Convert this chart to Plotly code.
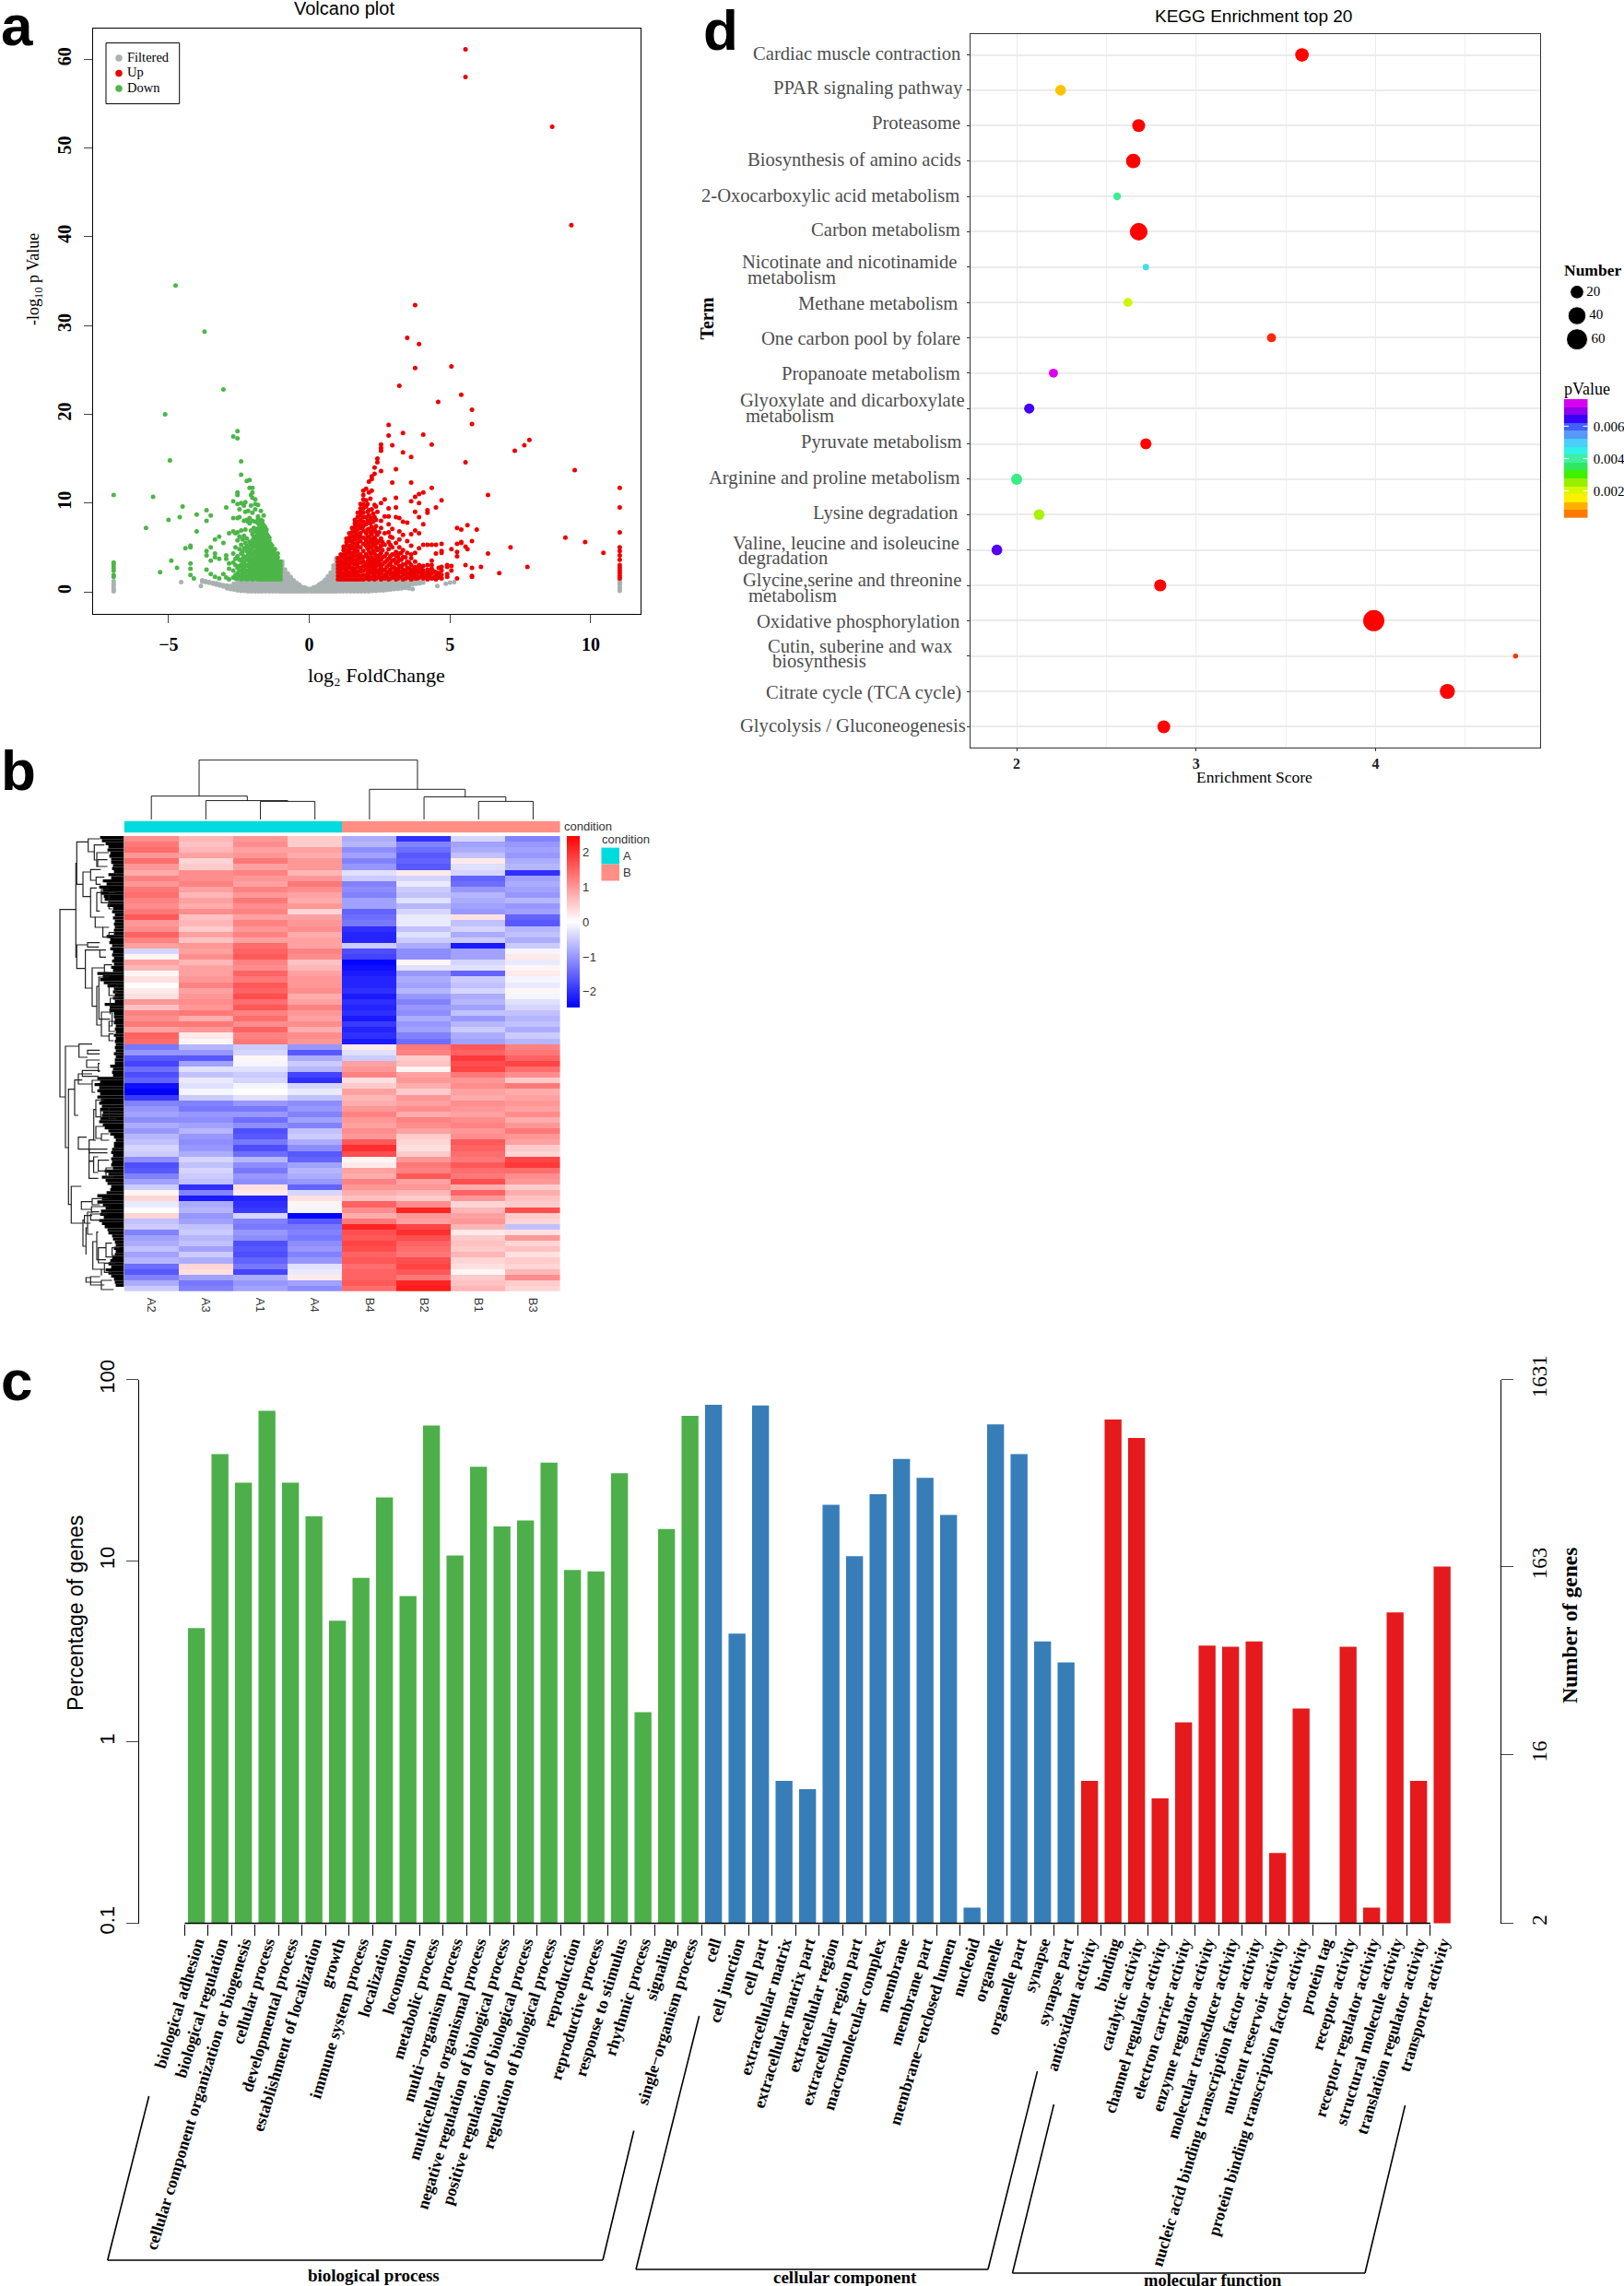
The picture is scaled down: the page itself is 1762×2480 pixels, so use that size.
import numpy as np
import plotly.graph_objects as go

W, H = 1762, 2480
SERIF = "Liberation Serif"
SANS = "Liberation Sans"

# ---------- panel a: volcano ----------
volcano_names = ["Filtered", "Up", "Down"]
filtered_columns = [
    (-6.95, [0.05, 0.2, 0.4, 0.7, 0.9, 1.2]),
    (-4.55, [1.1]), (-3.85, [0.65]), (-3.8, [1.3, 1.15]), (-3.68, [1.1, 1.2]), (-3.55, [1.0, 1.1]),
    (-3.42, [0.9, 1.0]), (-3.3, [0.8, 0.95]), (-3.18, [0.7, 0.85]), (-3.05, [0.6, 0.75]), (-2.92, [0.55, 0.7, 0.4]),
    (-2.8, [0.3, 0.5, 0.65]), (-2.68, [0.25, 0.45, 0.6, 0.9]), (-2.55, [0.15, 0.35, 0.55, 0.8, 1.1]),
    (-2.42, [0.1, 0.3, 0.55, 0.8, 1.05, 1.25]), (-2.3, [0.1, 0.3, 0.55, 0.8, 1.1, 1.3]),
    (-2.18, [0.05, 0.25, 0.5, 0.75, 1.0, 1.25]), (-2.05, [0.05, 0.25, 0.5, 0.8, 1.05, 1.3]),
    (-1.92, [0.05, 0.25, 0.5, 0.75, 1.0, 1.3]), (-1.8, [0.05, 0.3, 0.55, 0.8, 1.05, 1.3]),
    (-1.68, [0.05, 0.25, 0.5, 0.75, 1.0, 1.3]), (-1.55, [0.05, 0.25, 0.5, 0.8, 1.05, 1.3]),
    (-1.42, [0.05, 0.3, 0.55, 0.8, 1.05, 1.3]), (-1.3, [0.05, 0.25, 0.5, 0.75, 1.0, 1.3]),
    (-1.18, [0.05, 0.25, 0.5, 0.8, 1.05, 1.3]), (-1.06, [0.05, 0.3, 0.55, 0.8, 1.05, 1.3, 1.7, 2.1, 2.5, 2.9]),
    (-0.96, [0.05, 0.3, 0.55, 0.85, 1.2, 1.55, 1.9, 2.3, 2.7, 3.1, 3.4]),
    (-0.86, [0.05, 0.3, 0.55, 0.85, 1.2, 1.5, 1.85, 2.2, 2.5]),
    (-0.76, [0.05, 0.3, 0.55, 0.85, 1.15, 1.45, 1.75, 2.05]),
    (-0.66, [0.05, 0.25, 0.5, 0.8, 1.1, 1.4, 1.65]),
    (-0.56, [0.05, 0.25, 0.5, 0.75, 1.0, 1.3]), (-0.46, [0.05, 0.25, 0.45, 0.7, 1.0]),
    (-0.36, [0.05, 0.2, 0.4, 0.6, 0.8]), (-0.26, [0.05, 0.2, 0.4, 0.55]), (-0.16, [0.05, 0.2, 0.35, 0.5]),
    (-0.06, [0.05, 0.2, 0.35]), (0.06, [0.05, 0.2, 0.35]), (0.16, [0.05, 0.2, 0.35, 0.5]),
    (0.26, [0.05, 0.2, 0.4, 0.6]), (0.36, [0.05, 0.2, 0.45, 0.65, 0.85]), (0.46, [0.05, 0.25, 0.5, 0.75, 1.05]),
    (0.56, [0.05, 0.25, 0.5, 0.8, 1.1, 1.35]), (0.66, [0.05, 0.25, 0.55, 0.85, 1.15, 1.45, 1.75]),
    (0.76, [0.05, 0.3, 0.6, 0.9, 1.2, 1.5, 1.8, 2.15]), (0.86, [0.05, 0.3, 0.6, 0.9, 1.2, 1.55, 1.9, 2.25, 2.6, 2.95]),
    (0.96, [0.05, 0.3, 0.6, 0.9, 1.25, 1.6, 1.95, 2.35, 2.75, 3.15, 3.55, 3.8]),
    (1.08, [0.05, 0.3, 0.55, 0.85, 1.15]), (1.2, [0.05, 0.3, 0.55, 0.85, 1.2]), (1.33, [0.05, 0.25, 0.5, 0.8, 1.15]),
    (1.46, [0.05, 0.3, 0.55, 0.85, 1.2]), (1.59, [0.05, 0.25, 0.5, 0.8, 1.15]), (1.72, [0.05, 0.3, 0.55, 0.85, 1.2]),
    (1.85, [0.05, 0.25, 0.5, 0.8, 1.15]), (1.98, [0.05, 0.3, 0.55, 0.85, 1.2]), (2.11, [0.05, 0.3, 0.55, 0.85, 1.15]),
    (2.24, [0.1, 0.3, 0.6, 0.9, 1.2]), (2.37, [0.1, 0.3, 0.6, 0.85, 1.15]), (2.5, [0.15, 0.4, 0.65, 0.95, 1.2]),
    (2.63, [0.15, 0.35, 0.65, 0.9, 1.2]), (2.76, [0.2, 0.4, 0.7, 0.95, 1.25]), (2.89, [0.25, 0.5, 0.7, 1.0, 1.25]),
    (3.02, [0.3, 0.55, 0.8, 1.05, 1.25]), (3.15, [0.35, 0.6, 0.85, 1.1, 1.25]), (3.28, [0.4, 0.6, 0.9, 1.15]),
    (3.41, [0.45, 0.7, 0.95, 1.2]), (3.54, [0.4, 0.65, 0.9, 1.1]), (3.67, [0.3, 0.85, 1.1, 1.3]),
    (3.8, [0.9, 1.1, 1.25]), (3.93, [0.95, 1.15]), (4.05, [1.05]), (4.55, [0.65]), (4.85, [0.9]), (5.0, [1.05]),
    (5.15, [1.1]), (11.03, [0.1, 0.3, 0.5, 0.8, 1.0, 1.2]),
]
up_columns = [
    (1.02, [1.4, 1.8, 2.2, 2.6, 3.0, 3.4, 3.8]),
    (1.12, [1.4, 1.8, 2.2, 2.6, 3.0, 3.4, 3.8, 4.2]),
    (1.22, [1.4, 1.8, 2.1, 2.6, 3.0, 3.3, 3.8, 4.2, 4.7, 5.1]),
    (1.32, [1.4, 1.9, 2.3, 2.7, 3.1, 3.5, 3.9, 4.3, 4.7, 5.2, 5.6, 6.0]),
    (1.42, [1.4, 1.8, 2.2, 2.7, 3.1, 3.5, 3.9, 4.4, 4.8, 5.2, 5.7, 6.1, 6.6]),
    (1.52, [1.4, 1.9, 2.3, 2.7, 3.2, 3.6, 4.0, 4.4, 4.9, 5.3, 5.7, 6.2, 6.7, 7.2]),
    (1.62, [1.4, 1.8, 2.2, 2.6, 3.1, 3.5, 4.0, 4.5, 4.9, 5.4, 5.9, 6.3, 6.8, 7.3, 7.7, 8.1]),
    (1.72, [1.4, 1.9, 2.3, 2.8, 3.2, 3.6, 4.1, 4.6, 5.1, 5.5, 6.0, 6.5, 7.0, 7.5, 7.9, 8.4, 8.9]),
    (1.82, [1.4, 1.8, 2.3, 2.7, 3.3, 3.8, 4.2, 5.0, 5.7, 6.2, 6.6, 7.2, 7.6, 8.1, 8.6, 9.0, 9.4, 9.9]),
    (1.92, [1.4, 1.9, 2.4, 2.9, 3.4, 3.9, 4.6, 5.4, 6.1, 6.9, 7.4, 7.9, 8.4, 8.9, 9.4, 9.9, 10.4, 10.9, 11.4]),
    (2.02, [1.5, 1.9, 2.6, 3.1, 4.2, 5.2, 5.8, 6.6, 7.6, 8.4, 9.6, 10.3, 11.6]),
    (2.07, [1.7, 2.3, 2.9, 3.4, 3.9, 4.9, 5.5, 6.2, 7.0, 8.0, 9.0, 9.9]),
    (2.12, [1.4, 2.0, 2.9, 3.6, 4.6, 5.4, 6.2, 7.1, 8.6, 9.2, 11.2, 12.4]),
    (2.17, [1.6, 2.2, 2.6, 3.2, 3.8, 4.3, 5.1, 5.9, 6.7, 7.7, 8.2, 10.5]),
    (2.22, [1.5, 2.3, 2.8, 3.4, 3.9, 5.0, 5.7, 6.5, 7.3, 8.3, 9.3, 11.4, 12.7, 13.0]),
    (2.27, [1.7, 2.1, 2.5, 3.0, 3.6, 4.6, 5.5, 6.0, 6.9, 7.9, 8.8]),
    (2.32, [1.4, 1.9, 2.6, 3.2, 4.3, 5.3, 6.1, 7.0, 8.4, 9.8, 13.3, 14.0]),
    (2.37, [1.5, 2.4, 2.9, 3.4, 4.0, 5.0, 5.8, 6.7, 7.4, 8.1, 9.6]),
    (2.42, [1.6, 2.2, 3.1, 3.7, 4.7, 5.5, 6.4, 9.0, 14.6, 15.0]),
    (2.48, [1.8, 2.5, 3.0, 3.3, 4.1, 4.9, 5.7, 6.7]),
    (2.55, [1.4, 2.1, 2.7, 3.6, 4.4, 5.2, 6.0, 7.2, 8.0, 10.0, 13.6, 15.9, 16.2, 16.6]),
    (2.6, [1.6, 2.4, 3.1, 3.9, 4.7, 5.6]),
    (2.68, [1.5, 1.9, 2.5, 3.3, 4.0, 5.3, 6.6, 8.5, 10.4]),
    (2.75, [1.7, 2.1, 2.8, 3.5, 4.3]),
    (2.82, [1.4, 2.3, 3.0, 3.7, 4.8, 5.6, 6.7, 7.6, 8.5, 9.4, 17.6, 18.8]),
    (2.88, [1.5, 2.0, 2.5, 3.2, 4.0, 5.3, 6.2]),
    (2.95, [1.6, 2.1, 2.8, 3.5, 4.2, 5.0, 6.1, 7.1, 12.3, 16.5]),
    (3.02, [1.7, 2.2, 2.7, 3.6, 4.2]),
    (3.08, [1.4, 1.9, 2.4, 3.2, 4.1, 4.5, 5.5, 8.4, 9.5, 10.6, 13.8]),
    (3.15, [1.5, 2.0, 2.6, 3.4, 3.9]),
    (3.2, [1.6, 2.2, 2.9, 3.6, 4.3, 5.0, 5.9, 6.8, 8.3, 23.2]),
    (3.27, [1.7, 2.3, 2.8, 3.6, 4.4]),
    (3.33, [1.4, 2.0, 2.5, 3.1, 3.9, 4.7, 6.4, 7.9, 15.7, 17.9]),
    (3.42, [1.5, 1.9, 2.4, 3.1, 3.9]),
    (3.48, [1.6, 2.1, 2.7, 3.4, 4.4, 5.7, 7.8, 28.6]),
    (3.55, [1.6, 2.1, 2.6, 3.3]),
    (3.62, [1.4, 1.9, 2.3, 3.0, 3.8, 4.2, 5.2, 6.5, 10.2, 12.3, 15.2]),
    (3.7, [1.6, 2.2, 2.6]),
    (3.76, [1.5, 2.0, 2.8, 3.4, 4.4, 6.9, 9.0, 10.7, 25.2, 32.3]),
    (3.83, [1.5, 1.8, 2.4]),
    (3.9, [1.6, 2.2, 2.7, 3.0, 4.9, 6.6, 8.4, 10.0, 11.0, 27.9]),
    (3.98, [1.7, 2.1, 2.6]),
    (4.05, [1.5, 1.9, 2.4, 2.9, 5.3, 7.6, 11.2, 17.7]),
    (4.12, [1.6, 2.0]),
    (4.2, [1.4, 1.7, 2.2, 2.5, 3.0, 5.3, 8.9, 9.2]),
    (4.28, [1.6, 1.9, 2.3]),
    (4.35, [1.5, 2.1, 2.6, 3.0, 3.5, 5.3, 11.7, 16.6]),
    (4.42, [1.6, 2.3]),
    (4.5, [1.4, 1.9, 2.2, 4.3, 5.3, 9.5]),
    (4.6, [1.6, 2.1, 2.7]),
    (4.7, [1.5, 1.9, 2.4, 2.8, 4.4, 4.6, 5.4, 10.3]),
    (4.9, [1.7, 2.0, 2.8, 3.0]), (5.05, [2.4, 2.9, 4.8, 25.4]), (4.58, [21.4]),
    (5.25, [1.5, 4.0, 4.5, 5.4, 7.2]), (5.4, [5.5, 5.6, 7.0, 22.2]), (5.55, [3.0, 5.1, 14.6, 58.0, 61.1]),
    (5.62, [4.8, 7.5]), (5.78, [1.7, 1.8, 2.7, 5.7, 18.9, 20.5]), (5.95, [7.0]),
    (6.1, [2.8]), (6.35, [4.3, 10.9]), (6.75, [2.1]), (7.15, [5.0]), (7.3, [15.9]), (7.64, [16.5]),
    (7.75, [2.8]), (7.82, [17.1]), (8.63, [52.4]), (9.1, [6.1]), (9.31, [41.3]), (9.43, [13.7]),
    (9.8, [5.6]), (10.45, [4.4]),
    (11.03, [1.5, 1.8, 2.1, 2.4, 2.7, 3.0, 3.6, 4.1, 4.6, 5.0, 6.7, 9.5, 11.7]),
]
down_columns = [
    (-1.02, [1.4, 1.8, 2.2, 2.6, 3.0, 3.4]),
    (-1.07, [1.6, 2.0, 2.4, 2.8, 3.2]),
    (-1.12, [1.4, 1.9, 2.3, 2.7, 3.1, 3.5, 3.9, 4.3]),
    (-1.17, [1.6, 2.1, 2.5, 2.9, 3.3, 3.7, 4.1]),
    (-1.22, [1.4, 1.8, 2.2, 2.6, 3.0, 3.5, 3.9, 4.3, 4.8]),
    (-1.27, [1.6, 2.0, 2.4, 2.8, 3.3, 3.7, 4.1, 4.6]),
    (-1.32, [1.4, 1.9, 2.3, 2.7, 3.1, 3.5, 3.9, 4.4, 4.8, 5.2]),
    (-1.37, [1.6, 2.1, 2.5, 2.9, 3.3, 3.7, 4.2, 4.6, 5.0, 5.4]),
    (-1.42, [1.4, 1.8, 2.2, 2.7, 3.1, 3.5, 4.0, 4.4, 4.8, 5.3, 5.8, 6.1]),
    (-1.47, [1.6, 2.0, 2.5, 2.9, 3.3, 3.8, 4.2, 4.6, 5.1, 5.5, 6.0, 6.3]),
    (-1.52, [1.4, 1.9, 2.3, 2.7, 3.2, 3.6, 4.0, 4.4, 4.9, 5.3, 5.8, 6.2, 6.6, 7.0]),
    (-1.57, [1.6, 2.1, 2.5, 3.0, 3.4, 3.8, 4.2, 4.7, 5.1, 5.6, 6.0, 6.4, 6.8, 7.3]),
    (-1.62, [1.4, 1.8, 2.2, 2.6, 3.1, 3.5, 4.0, 4.5, 4.9, 5.4, 5.8, 6.2, 6.7, 7.1, 7.5, 8.6]),
    (-1.67, [1.6, 2.0, 2.4, 2.9, 3.3, 3.8, 4.3, 4.7, 5.2, 5.6, 6.1, 6.5, 6.9, 7.3, 7.7, 8.0]),
    (-1.72, [1.4, 1.9, 2.3, 2.8, 3.2, 3.6, 4.1, 4.6, 5.1, 5.5, 6.0, 6.4, 6.8, 7.3, 7.7, 8.1, 9.1]),
    (-1.77, [1.6, 2.1, 2.5, 3.0, 3.5, 3.9, 4.4, 4.9, 5.3, 5.8, 6.2, 6.7, 7.1, 7.5, 7.8]),
    (-1.82, [1.4, 1.8, 2.3, 2.7, 3.3, 3.8, 4.2, 4.7, 5.4, 6.0, 6.6, 7.1, 7.7, 8.2, 8.5, 9.8]),
    (-1.87, [1.6, 2.1, 2.6, 3.0, 3.5, 4.0, 4.5, 5.0, 5.7, 6.3, 7.1]),
    (-1.92, [1.5, 1.9, 2.4, 2.9, 3.4, 3.9, 4.6, 5.2, 5.9, 6.8, 7.9, 9.3, 9.9, 10.4]),
    (-1.97, [1.6, 2.2, 2.7, 3.3, 3.8, 4.4, 5.4, 6.2, 7.2]),
    (-2.02, [1.4, 1.9, 2.5, 3.1, 3.6, 4.2, 5.0, 5.8, 6.5, 8.0, 8.9, 10.6, 11.2, 11.7]),
    (-2.07, [1.7, 2.3, 2.8, 3.5, 4.7, 5.3, 6.9, 9.7, 10.9]),
    (-2.12, [1.5, 2.0, 2.6, 3.3, 3.9, 4.4, 5.6, 7.7, 8.3, 11.7, 12.6]),
    (-2.17, [1.7, 2.3, 2.9, 3.6, 4.2, 5.0, 7.9, 9.1]),
    (-2.22, [1.4, 1.8, 2.4, 3.0, 3.6, 4.6, 5.2, 6.0, 8.1, 12.5]),
    (-2.27, [1.6, 2.2, 2.9, 3.9, 5.5, 7.0, 9.0, 10.1]),
    (-2.32, [1.5, 2.1, 2.7, 3.3, 4.0, 4.9, 6.3, 8.0, 9.7]),
    (-2.37, [1.7, 2.3, 2.8, 3.7, 4.5, 5.9]),
    (-2.42, [1.4, 1.9, 2.4, 3.0, 3.5, 4.3, 5.3, 6.9, 10.0, 13.2, 14.7]),
    (-2.48, [1.8, 2.4, 2.9, 3.6, 4.8, 6.2, 8.4, 9.3]),
    (-2.55, [1.5, 2.1, 2.7, 4.0, 5.8, 6.7, 8.3, 9.9, 10.9, 11.2, 17.3, 18.1]),
    (-2.62, [1.5, 1.9, 3.0, 3.7, 5.0, 6.6]),
    (-2.7, [1.6, 2.4, 3.3, 4.3, 6.8, 8.3, 10.2, 17.5]), (-2.85, [1.4, 2.6, 3.2, 6.6]),
    (-2.95, [1.6, 3.7, 4.1, 9.5]), (-3.05, [22.8, 5.5, 2.0]), (-3.2, [1.5, 3.7, 6.2]), (-3.35, [1.7, 3.9, 4.3, 5.9]),
    (-3.5, [2.0, 3.5, 5.0, 8.6]), (-3.65, [2.5, 4.1, 4.6, 8.0, 9.2]), (-3.72, [29.3]), (-4.0, [6.8, 8.7]),
    (-4.1, [1.5]), (-4.22, [1.9, 2.6, 3.2, 5.0, 5.2]), (-4.4, [4.9]), (-4.5, [9.6]), (-4.6, [8.4]), (-4.7, [2.7]),
    (-4.75, [34.5]), (-4.9, [3.5]), (-4.95, [14.8]), (-5.0, [8.1]), (-5.12, [20.0]), (-5.3, [2.2]),
    (-5.55, [10.7]), (-5.8, [7.2]), (-6.95, [1.7, 1.9, 2.4, 2.7, 3.0, 3.3, 10.9]),
]

# ---------- panel b: heat map ----------
heat_columns = ["A2", "A3", "A1", "A4", "B4", "B2", "B1", "B3"]
heat_values = [
    [1.1, .7, 1.0, .5, -.8, -2.0, -.4, -1.2], [1.3, .6, 1.1, .5, -.7, -1.2, -.9, -1.0],
    [1.4, .7, .9, .9, -1.1, -1.4, -.8, -.9], [1.0, .9, 1.0, .8, -.9, -1.6, -.6, -1.0],
    [1.4, .4, 1.3, 1.0, -1.2, -1.5, .2, -.8], [1.0, .5, .9, 1.0, -1.0, -1.6, -.3, -.7],
    [.8, 1.1, 1.2, .7, -.3, .2, -.4, -2.0], [1.2, 1.1, 1.0, 1.0, -.5, -.4, -1.5, -.9],
    [1.0, 1.2, .9, 1.3, -1.2, -.2, -1.4, -.8], [1.3, .9, 1.2, 1.1, -1.1, -.5, -1.0, -.9],
    [1.4, .7, 1.0, .9, -1.2, -.6, -.7, -1.0], [1.2, .9, 1.3, .8, -.9, -.3, -.8, -.7],
    [1.1, .8, 1.1, 1.0, -.9, -.7, -.9, -1.0], [1.3, 1.1, 1.2, .4, -1.5, -.4, -1.0, -.9],
    [1.6, .6, .9, .9, -1.4, -.2, .3, -1.5], [1.0, .7, 1.2, 1.0, -1.3, -.2, -.6, -1.6],
    [1.1, .5, 1.0, 1.1, -2.0, -.6, -.4, -.7], [1.5, .9, 1.2, .8, -2.1, -.3, -.8, -.6],
    [1.2, .6, .9, .9, -2.1, -.5, -.5, -.8], [.9, 1.0, 1.4, .9, -.5, -.8, -2.2, -.5],
    [-.4, .9, 1.5, 1.2, -1.7, -1.1, -.9, -.1], [.1, 1.1, 1.6, 1.1, -1.8, -1.1, -.9, .2],
    [.9, .7, 1.2, .6, -2.4, .1, -.4, -.2], [.7, .9, 1.1, .7, -2.3, -.3, -.3, .1],
    [.1, .9, 1.5, .9, -2.2, -1.0, -1.5, .2], [.3, 1.0, 1.3, 1.0, -2.1, -.8, -.5, -.1],
    [0, 1.2, 1.6, 1.0, -2.1, -.9, -.6, -.2], [.2, .9, 1.5, 1.1, -2.0, -.7, -.4, .1],
    [.3, 1.0, 1.7, .8, -2.2, -1.0, -.8, -.1], [1.0, 1.1, 1.4, .9, -2.0, -1.2, -.7, -.3],
    [.6, 1.0, 1.6, 1.2, -2.1, -1.0, -.9, -.4], [1.2, 1.3, 1.2, 1.0, -2.0, -1.1, -.6, -.6],
    [1.1, .8, 1.4, .9, -2.2, -.8, -1.0, -.7], [1.3, 1.3, 1.1, 1.1, -1.9, -1.0, -.7, -.6],
    [.9, 1.0, 1.5, .8, -2.1, -.9, -.5, -.8], [1.5, .2, 1.2, 1.1, -2.0, -1.2, -.8, -.5],
    [1.4, .1, 1.3, 1.0, -2.2, -1.4, -.9, -.7],
    [-1.3, -.7, -.5, -1.0, .2, 1.3, 1.6, 1.2], [-1.0, -1.0, -.4, -1.6, -.3, 1.2, 1.5, 1.3],
    [-1.6, -1.6, .1, -.8, -.5, .5, 1.9, 1.5], [-1.8, -.9, -.1, -.5, .9, .6, 1.7, 1.8],
    [-1.4, -.3, -.3, -.7, 1.0, .1, 1.8, 1.4], [-1.7, -.6, -.5, -1.8, 1.2, .9, 1.3, 1.1],
    [-1.5, -.2, -.4, -2.0, .3, 1.0, 1.0, .5], [-2.3, -.3, -.1, -.4, .5, .8, 1.1, 1.3],
    [-2.5, -.1, 0, -.2, .9, .5, .9, .8], [-1.9, -.5, -.3, -.6, .7, 1.0, .8, .9],
    [-1.2, -1.2, -1.0, -1.1, .8, .9, 1.1, 1.0], [-1.0, -1.3, -1.3, -1.0, 1.0, 1.1, 1.0, .9],
    [-.9, -1.0, -1.0, -1.2, 1.2, .8, .9, 1.1], [-1.1, -1.1, -1.4, -.9, 1.0, 1.2, 1.1, .8],
    [-.8, -.9, -1.1, -1.2, .9, 1.1, 1.2, 1.0], [-1.0, -.7, -1.7, -.6, 1.1, .9, 1.0, 1.3],
    [-.7, -1.0, -1.6, -.5, 1.0, .5, 1.1, 1.0], [-.6, -1.1, -1.3, -.8, 1.6, .4, 1.6, .9],
    [-.4, -1.0, -1.7, -1.1, 2.0, .3, 1.5, .5], [-.5, -.8, -1.4, -1.6, 1.7, .5, 1.4, .4],
    [-1.1, -.4, -.7, -1.5, .1, 1.0, 1.3, 1.8], [-1.7, -.6, -1.1, -.9, .2, 1.3, 1.6, 1.9],
    [-1.6, -.4, -1.3, -.7, .9, 1.2, 1.4, 1.4], [-1.2, -.5, -1.0, -.8, .8, 1.6, 1.3, 1.1],
    [-.9, -.6, -1.1, -1.0, 1.2, .9, 1.7, 1.0], [-.5, -2.0, .3, -1.5, 1.0, 1.0, .8, .5],
    [.1, -1.2, .2, -.4, .8, .7, 1.5, .8], [.4, -2.2, -2.1, .3, .6, .5, 1.0, .6],
    [-.2, -.8, -2.0, .1, 1.5, 1.1, .4, .5], [0, -.7, -1.9, -.1, 1.1, 2.1, .7, 1.7],
    [.4, -1.0, -.4, -2.4, .8, 1.0, .9, .5], [-.6, -.9, -1.2, -1.6, 1.3, .9, 1.0, .4],
    [-.5, -.6, -1.3, -1.3, 2.1, 1.8, .7, -.6], [-1.2, -.5, -1.0, -1.2, 1.7, 2.0, .2, .3],
    [-.9, -.7, -1.1, -1.3, 1.6, 1.7, .5, 1.0], [-.8, -.6, -1.7, -1.1, 1.8, 1.5, .6, .4],
    [-.6, -.9, -1.6, -1.0, 1.7, 1.4, .5, .6], [-.9, -.5, -1.7, -1.2, 1.5, 1.3, .7, .3],
    [-.7, -.8, -1.5, -1.0, 1.6, 1.7, .4, .5], [-1.4, .4, -1.3, -.3, 1.4, 1.8, .3, .4],
    [-1.6, .3, -1.8, -.2, 1.5, 1.6, .1, .7], [-1.2, -.9, -.8, .2, 1.5, 1.3, .5, 1.1],
    [-.8, -1.3, -1.0, -.9, 1.6, 2.1, .6, .5], [-.5, -1.2, -.9, -1.1, 1.4, 2.2, .7, .4],
]
condition_codes = [0, 0, 0, 0, 1, 1, 1, 1]
# column dendrogram: left pos, right pos, height, left child height, right child height
col_merges = [
    (0.876, 4.88, 158, 62, 80), (0, 1.76, 62, 0, 50), (1, 2.5, 50, 0, 48), (2, 3, 48, 0, 0),
    (4, 5.755, 80, 0, 60), (5, 6.5, 60, 0, 48), (6, 7, 48, 0, 0),
]
# row dendrogram: height, top row, bottom row, top child height, bottom child height
row_merges = [
    (69.6, 79.7, 283, 52.3, 63.6), (52.3, 29.7, 131.3, 51.3, 51.3), (51.3, 6.3, 52.3, 38.9, 44.6),
    (38.9, 3, 17, 26.3, 32.3), (32.3, 9.7, 26, 21.3, 29.6), (29.6, 18, 33, 16.3, 28.6), (28.6, 25.7, 33, 18, 18),
    (44.6, 39, 65.7, 36.3, 36.3), (36.3, 36.3, 48, 25.3, 30.3), (30.3, 44.7, 52.3, 21.3, 25.3),
    (36.3, 56.3, 88, 29.6, 31.3), (29.6, 61.3, 81.3, 24.6, 26.3), (24.6, 58, 72.3, 16.3, 16.3),
    (16.3, 61.3, 79, 9.6, 13), (31.3, 88, 99, 21.3, 23), (23, 99, 109.7, 16.3, 16.3), (16.3, 104.7, 110.3, 9.6, 11.3),
    (51.3, 118, 143.7, 39.6, 42), (39.6, 115.7, 120.3, 26.3, 27.3), (42, 123.7, 165, 26.3, 34.6),
    (26.3, 123.7, 131.3, 19.6, 19.6), (34.6, 143, 184.7, 21.3, 29.6), (21.3, 139.7, 148, 13, 18),
    (29.6, 163, 205, 27.3, 24.6), (27.3, 153, 198.7, 16.3, 15), (16.3, 160, 173, 9.6, 9.6), (9.6, 163.7, 169.7, 6.3, 6.3),
    (15, 176, 193, 6.3, 14.6), (24.6, 191, 217, 13, 16.3), (13, 192, 206, 12, 16.3), (16.3, 201, 212, 9.6, 9.6),
    (16.3, 214.7, 222, 11.3, 11.3),
    (63.6, 228, 338, 48.9, 60.3), (48.9, 225.7, 240, 34.6, 39.6), (39.6, 232.3, 236.3, 26.3, 26.3),
    (60.3, 274.7, 399.7, 53.6, 57.3), (53.6, 264.7, 303, 45.3, 49.6), (45.3, 254.3, 260.7, 26.3, 27.9),
    (49.6, 258, 269, 34.6, 34.6), (34.6, 265, 278, 24.6, 31.3), (49.6, 326.7, 339.7, 40.6, 37.9),
    (40.6, 243, 251, 26.3, 27.9), (27.9, 246.7, 255.3, 26.3, 26.3), (37.9, 329.7, 353, 32.9, 32.9),
    (32.9, 296.7, 330, 30.6, 30.6), (30.6, 286.3, 304.7, 21.3, 25.3), (25.3, 298, 308, 18, 16.3), (16.3, 294.7, 306.7, 9.6, 8.0),
    (30.6, 315, 328, 21.3, 24.6), (24.6, 323, 330, 16.3, 16.3), (37.9, 339.7, 343.7, 18, 18),
    (38, 352.3, 371.3, 33, 28), (33, 348, 365, 28, 28), (28, 351.7, 363.3, 16.3, 19.6), (19.6, 360, 370, 11.3, 11.3),
    (57.3, 380, 420, 46.3, 44.6), (46.3, 396.7, 405, 34.6, 35.3), (34.6, 393.3, 400, 16.3, 26.3), (35.3, 402, 407.7, 16.3, 27),
    (44.6, 416.7, 445, 43, 41.3), (43, 411.7, 420, 34.6, 36.3), (36.3, 410, 416.7, 18, 24.6),
    (41.3, 425, 454, 39.6, 41.3), (39.6, 408, 432, 33.9, 33.9), (33.9, 440, 470, 29.6, 24.6),
    (29.6, 429.7, 459.7, 27.9, 19.6), (27.9, 446.7, 463, 19.6, 21.3), (19.6, 441.7, 456.7, 13, 13), (13, 446.7, 455, 5, 5),
    (21.3, 463.3, 473.3, 9.6, 13), (24.6, 470, 476.7, 21.3, 24.6), (41.3, 479, 484, 36.3, 24.6), (36.3, 478, 487, 26, 21.3),
    (24.6, 482, 492, 13, 11.3),
]
leaf_depth = [
    26, 24, 20, 17, 18, 15, 16, 14, 14, 12, 13, 11, 17, 14, 23, 19, 27, 23, 25, 22, 21, 17, 18, 12, 13, 10, 12, 10,
    11, 10, 11, 11, 19, 15, 16, 13, 15, 12, 13, 11, 13, 11, 14, 12, 29, 23, 26, 22, 18, 11, 12, 10, 12, 10, 21, 15, 16, 11,
    11, 10, 11, 9, 10, 9, 11, 9, 10, 9, 10, 9, 11, 9, 10, 10, 15, 12, 13, 12, 29, 26, 32, 27,
    29, 26, 29, 25, 27, 24, 26, 23, 24, 25, 27, 23, 21, 17, 15, 11, 9, 11, 11, 13, 14, 12, 14, 13, 14, 12, 21, 17, 24, 20,
    18, 14, 15, 19, 29, 24, 29, 23, 20, 25, 26, 22, 27, 24, 21, 18, 17, 13, 12, 10, 9, 11, 9, 10, 13, 15, 17, 14, 20, 17,
    14, 11, 10, 9,
]

# ---------- panel c: GO bars ----------
bp_terms = ["biological adhesion", "biological regulation", "cellular component organization or biogenesis",
            "cellular process", "developmental process", "establishment of localization", "growth",
            "immune system process", "localization", "locomotion", "metabolic process", "multi−organism process",
            "multicellular organismal process", "negative regulation of biological process",
            "positive regulation of biological process", "regulation of biological process", "reproduction",
            "reproductive process", "response to stimulus", "rhythmic process", "signaling", "single−organism process"]
bp_values = [4.26, 38.8, 27.0, 67.3, 27.0, 17.6, 4.67, 8.05, 22.4, 6.40, 55.8, 10.7, 33.0, 15.5, 16.7, 34.8, 8.91,
             8.74, 30.4, 1.46, 15.0, 63.2]
cc_terms = ["cell", "cell junction", "cell part", "extracellular matrix", "extracellular matrix part",
            "extracellular region", "extracellular region part", "macromolecular complex", "membrane", "membrane part",
            "membrane−enclosed lumen", "nucleoid", "organelle", "organelle part", "synapse", "synapse part"]
cc_values = [72.6, 3.97, 72.0, 0.61, 0.55, 20.4, 10.6, 23.3, 36.5, 28.7, 17.9, 0.122, 56.6, 38.8, 3.59, 2.75]
mf_terms = ["antioxidant activity", "binding", "catalytic activity", "channel regulator activity",
            "electron carrier activity", "enzyme regulator activity", "molecular transducer activity",
            "nucleic acid binding transcription factor activity", "nutrient reservoir activity",
            "protein binding transcription factor activity", "protein tag", "receptor activity",
            "receptor regulator activity", "structural molecule activity", "translation regulator activity",
            "transporter activity"]
mf_values = [0.61, 60.2, 47.7, 0.489, 1.285, 3.41, 3.36, 3.59, 0.244, 1.53, None, 3.36, 0.122, 5.19, 0.61, 9.29]
gene_ticks = [2, 16, 163, 1631]
percent_ticks = [0.1, 1, 10, 100]

# ---------- panel d: KEGG dots ----------
kegg_scores = [3.59, 2.245, 2.68, 2.65, 2.56, 2.68, 2.72, 2.62, 3.42, 2.205, 2.07, 2.72, 2.0, 2.125, 1.89, 2.80, 3.99,
               4.78, 4.40, 2.82]
kegg_numbers = [20, 12, 18, 24, 7, 38, 5, 9, 9, 9, 11, 13, 13, 12, 12, 16, 60, 3, 27, 18]
kegg_pvalues = [0.00002, 0.0012, 0.00002, 0.00001, 0.0039, 0.00001, 0.0048, 0.0021, 0.00025, 0.0075, 0.0065, 0.00002,
                0.0038, 0.0024, 0.0066, 0.00002, 0.00001, 0.0003, 0.00002, 0.00002]
number_legend = [20, 40, 60]
pvalue_bands = [0.00057, 0.00106, 0.00155, 0.00204, 0.00253, 0.00302, 0.00351, 0.0040, 0.00449, 0.00498, 0.00547,
                0.00596, 0.00645, 0.00694, 0.00743]
pvalue_colors = ["#ff7800", "#ffb000", "#fff000", "#d8f800", "#98f000", "#40f000", "#30e860", "#40f0a0", "#30f0e8",
                 "#48d0f8", "#5898f8", "#4060f8", "#3800f8", "#9000e8", "#d800f0"]
pvalue_ticks = [0.002, 0.004, 0.006]


def expand(columns):
    xs, ys = [], []
    for x, vals in columns:
        xs += [x] * len(vals)
        ys += vals
    return xs, ys


def dx(a, b):
    return [a / W, b / W]


def dy(top, bot):
    return [1 - bot / H, 1 - top / H]


def px(x):
    return x / W


def py(y):
    return 1 - y / H


annotations, shapes = [], []


def note(x, y, text, size=16, family=SERIF, color="black", xa="center", ya="middle", angle=0, bold=False):
    annotations.append(dict(x=px(x), y=py(y), xref="paper", yref="paper", text=text, showarrow=False, xanchor=xa,
                            yanchor=ya, textangle=angle,
                            font=dict(size=size, family=family, color=color, weight=700 if bold else 400),
                            borderpad=0, borderwidth=0))


def seg(x0, y0, x1, y1, width=1.6, color="black"):
    shapes.append(dict(type="line", xref="paper", yref="paper", x0=px(x0), y0=py(y0), x1=px(x1), y1=py(y1),
                       line=dict(width=width, color=color)))


fig = go.Figure()
layout = {}

# ---------- a ----------
volcano_colors = ["#a9b2b0", "#ee0000", "#4cb648"]
for name, cols, color in zip(volcano_names, [filtered_columns, up_columns, down_columns], volcano_colors):
    xs, ys = expand(cols)
    fig.add_trace(go.Scatter(x=xs, y=ys, mode="markers", name=name, marker=dict(size=5, color=color), xaxis="x",
                             yaxis="y", showlegend=False))
BOLD20 = dict(family=SERIF, size=20, color="black", weight=700)
layout["xaxis"] = dict(domain=dx(101, 695), range=[-7.68, 11.77], anchor="y", showgrid=False, zeroline=False,
                       showline=True, mirror=True, linecolor="black", linewidth=1, ticks="outside", ticklen=9,
                       tickvals=[-5, 0, 5, 10], ticktext=["−5", "0", "5", "10"], tickfont=BOLD20, ticklabelstandoff=6)
layout["yaxis"] = dict(domain=dy(30.5, 665.5), range=[-2.44, 63.5], anchor="x", showgrid=False, zeroline=False,
                       showline=True, mirror=True, linecolor="black", linewidth=1, ticks="outside", ticklen=9,
                       tickvals=[0, 10, 20, 30, 40, 50, 60], tickangle=-90, tickfont=BOLD20, ticklabelstandoff=6)
# volcano key
fig.add_trace(go.Scatter(x=[0, 0, 0], y=[0, 1, 2], mode="markers", marker=dict(size=7.5, color=volcano_colors),
                         showlegend=False, hoverinfo="skip", xaxis="x11", yaxis="y11"))
fig.add_trace(go.Scatter(x=[9, 9, 9], y=[0, 1, 2], mode="text", text=volcano_names, textposition="middle right",
                         textfont=dict(family=SERIF, size=14.5, color="black"), showlegend=False, hoverinfo="skip",
                         xaxis="x11", yaxis="y11"))
layout["xaxis11"] = dict(domain=dx(115, 194.7), range=[-14, 65.7], anchor="y11", visible=False)
layout["yaxis11"] = dict(domain=dy(46.6, 112.6), range=[3.006, -0.994], anchor="x11", visible=False)
shapes.append(dict(type="rect", xref="paper", yref="paper", x0=px(115), x1=px(194.7), y0=py(112.6), y1=py(46.6),
                   line=dict(width=1, color="black")))
note(373, 9, "Volcano plot", 20, SANS)
note(408, 732, "log₂ FoldChange", 22, SERIF)
note(37, 303, "-log<sub>10</sub> p Value", 18, SERIF, angle=-90)
note(1, 28, "a", 62, SANS, xa="left", bold=True)

# ---------- d ----------
kegg_terms = [
    ("Cardiac muscle contraction", None, 1041.8, None, -1.6, 0), ("PPAR signaling pathway", None, 1045, None, -1.6, 0),
    ("Proteasome", None, 1041.8, None, -3.3, 0), ("Biosynthesis of amino acids", None, 1043, None, -0.5, 0),
    ("2-Oxocarboxylic acid metabolism", None, 1040.5, None, -0.5, 0), ("Carbon metabolism", None, 1041.8, None, -1.6, 0),
    ("Nicotinate and nicotinamide", "metabolism", 805, 810.5, -5, 11.5), ("Methane metabolism", None, 1038.5, None, 1.6, 0),
    ("One carbon pool by folare", None, 1041.8, None, 1, 0), ("Propanoate metabolism", None, 1041.8, None, 1, 0),
    ("Glyoxylate and dicarboxylate", "metabolism", 802.5, 808.5, -8, 8.2), ("Pyruvate metabolism", None, 1043, None, -1.6, 0),
    ("Arginine and proline metabolism", None, 1040.5, None, -1, 0), ("Lysine degradation", None, 1039, None, -1.6, 0),
    ("Valine, leucine and isoleucine", "degradation", 795.4, 801, -7.7, 9.3),
    ("Glycine,serine and threonine", "metabolism", 805.8, 811.5, -5.5, 11),
    ("Oxidative phosphorylation", None, 1040.5, None, 1.6, 0), ("Cutin, suberine and wax", "biosynthesis", 832.5, 838, -10.4, 6),
    ("Citrate cycle (TCA cycle)", None, 1042.5, None, 1.6, 0), ("Glycolysis / Gluconeogenesis", None, 1047.7, None, -1, 0),
]
kegg_y = list(range(len(kegg_terms)))
kegg_scale = [[b / 0.00767, c] for b, c in zip(pvalue_bands, pvalue_colors)]
kegg_scale = [[0, "#ff0000"], [0.04, "#ff3000"]] + kegg_scale + [[1, "#e800f0"]]


def dot_size(n):
    return np.interp(n, [3, 9, 12, 20, 40, 60], [5.5, 9.8, 11.7, 14.7, 19.5, 23])


fig.add_trace(go.Scatter(x=kegg_scores, y=kegg_y, mode="markers", showlegend=False, xaxis="x2", yaxis="y2",
                         marker=dict(size=dot_size(np.array(kegg_numbers)), color=kegg_pvalues, colorscale=kegg_scale,
                                     cmin=0, cmax=0.00767, line=dict(width=0), opacity=1)))
layout["xaxis2"] = dict(domain=dx(1053, 1671), range=[1.743, 4.917], anchor="y2", showgrid=True, gridcolor="#ebebeb",
                        gridwidth=1.2, zeroline=False, showline=True, mirror=True, linecolor="#333333", linewidth=1,
                        ticks="outside", ticklen=3, tickvals=[2, 3, 4], tickcolor="#333333",
                        tickfont=dict(family=SERIF, size=16, color="#222222", weight=700),
                        minor=dict(tickvals=[2.5, 3.5, 4.5], showgrid=True, gridcolor="#f1f1f1", gridwidth=1, ticks=""))
layout["yaxis2"] = dict(domain=dy(37.3, 810.7), range=[19.58, -0.58], anchor="x2", showgrid=True, gridcolor="#ebebeb",
                        gridwidth=2, zeroline=False, showline=True, mirror=True, linecolor="#333333", linewidth=1,
                        ticks="outside", ticklen=3, tickvals=kegg_y, ticktext=[""] * 20, tickcolor="#333333")
for i, (a, b, xa_, xb_, d1, d2) in enumerate(kegg_terms):
    row = 59.2 + i * 38.37
    if b is None:
        note(xa_, row + d1, a, 20.6, SERIF, "#4d4d4d", xa="right")
    else:
        note(xa_, row + d1, a, 20.6, SERIF, "#4d4d4d", xa="left")
        note(xb_, row + d2, b, 20.6, SERIF, "#4d4d4d", xa="left")
note(1360, 17.5, "KEGG Enrichment top 20", 19, SANS)
note(1360.6, 842.5, "Enrichment Score", 17.5, SERIF)
note(767, 345.6, "Term", 20, SERIF, angle=-90, bold=True)
note(763, 32, "d", 62, SANS, xa="left", bold=True)
note(1697, 293, "Number", 17.5, SERIF, xa="left", bold=True)
note(1697, 422.4, "pValue", 18, SERIF, xa="left")

fig.add_trace(go.Scatter(x=[0, 0, 0], y=number_legend, mode="markers+text", showlegend=False, xaxis="x3", yaxis="y3",
                         text=[str(n) for n in number_legend], textposition="middle right",
                         textfont=dict(family=SERIF, size=15, color="black"),
                         marker=dict(size=dot_size(np.array(number_legend)), color="black", opacity=1)))
layout["xaxis3"] = dict(domain=dx(1700, 1750), range=[-0.22, 0.78], anchor="y3", visible=False)
layout["yaxis3"] = dict(domain=dy(304, 381), range=[70, 10], anchor="x3", visible=False)

fig.add_trace(go.Heatmap(z=[[v] for v in pvalue_bands], x=[0], y=pvalue_bands, colorscale=kegg_scale, zmin=0,
                         zmax=0.00767, showscale=False, xaxis="x4", yaxis="y4", xgap=0, ygap=0))
layout["xaxis4"] = dict(domain=dx(1696.7, 1722.7), range=[-0.5, 0.5], anchor="y4", visible=False)
layout["yaxis4"] = dict(domain=dy(433, 561.7), range=[0.000325, 0.00767], anchor="x4", side="right", showgrid=False,
                        zeroline=False, tickvals=pvalue_ticks, tickformat=".3f", ticks="", showline=False,
                        tickfont=dict(family=SERIF, size=15, color="black"), ticklabelstandoff=5)
for tick_y in [462.4, 497.5, 532.6]:
    seg(1696.7, tick_y, 1702, tick_y, 1, "white")
    seg(1717.5, tick_y, 1722.7, tick_y, 1, "white")

# ---------- b ----------
heat_scale = [[0, "#0000ff"], [0.5, "#ffffff"], [1, "#ff0000"]]
fig.add_trace(go.Heatmap(z=heat_values, x=heat_columns, colorscale=heat_scale, zmin=-2.45, zmax=2.45, xaxis="x5",
                         yaxis="y5", zsmooth=False,
                         colorbar=dict(thickness=13.5, lenmode="pixels", len=185.6, x=px(614.5), y=py(907),
                                       xanchor="left", yanchor="top", outlinewidth=0, ticks="", tickvals=[-2, -1, 0, 1, 2],
                                       ticktext=["−2", "−1", "0", "1", "2"], tickfont=dict(family=SANS, size=13, color="#333333"),
                                       xpad=0, ypad=0, borderwidth=0, ticklabelposition="outside")))
layout["xaxis5"] = dict(domain=dx(134.6, 608), anchor="y5", tickangle=90, showgrid=False, zeroline=False, ticks="",
                        tickfont=dict(family=SANS, size=13, color="#333333"), ticklabelstandoff=6)
layout["yaxis5"] = dict(domain=dy(907, 1400.8), autorange="reversed", anchor="x5", visible=False)

fig.add_trace(go.Heatmap(z=[condition_codes], x=heat_columns, colorscale=[[0, "#00dbdd"], [1, "#ff8e85"]], zmin=0, zmax=1,
                         showscale=False, xaxis="x6", yaxis="y6"))
layout["xaxis6"] = dict(domain=dx(134.6, 608), anchor="y6", visible=False)
layout["yaxis6"] = dict(domain=dy(890.6, 903.3), anchor="x6", visible=False)

cx, cy = [], []
for x1, x2, h, h1, h2 in col_merges:
    cx += [x1, x1, x2, x2, None]
    cy += [h1, h, h, h2, None]
fig.add_trace(go.Scatter(x=cx, y=cy, mode="lines", line=dict(color="#222222", width=1), showlegend=False, xaxis="x7", yaxis="y7"))
layout["xaxis7"] = dict(domain=dx(134.6, 608), range=[-0.5, 7.5], anchor="y7", visible=False)
layout["yaxis7"] = dict(domain=dy(824, 889), range=[0, 159], anchor="x7", visible=False)

fig.add_trace(go.Bar(x=leaf_depth, y=[i * 3.35 + 1.7 for i in range(len(leaf_depth))], orientation="h", width=3.35,
                     marker=dict(color="black", line=dict(width=0)), showlegend=False, xaxis="x8", yaxis="y8"))
rx, ry = [], []
for h, r1, r2, h1, h2 in row_merges:
    rx += [h1, h, h, h2, None]
    ry += [r1, r1, r2, r2, None]
fig.add_trace(go.Scatter(x=rx, y=ry, mode="lines", line=dict(color="#222222", width=1.2), showlegend=False, xaxis="x8", yaxis="y8"))
layout["xaxis8"] = dict(domain=dx(60, 134.6), range=[74.6, 0], anchor="y8", visible=False)
layout["yaxis8"] = dict(domain=dy(907, 1400.8), range=[493.8, 0], anchor="x8", visible=False)

note(612, 896.7, "condition", 13, SANS, "#333333", xa="left")
note(652.5, 911, "condition", 13, SANS, "#333333", xa="left")
for (top, bot, col) in [(919.6, 937.6, "#00dbdd"), (937.6, 955.5, "#ff8e85")]:
    shapes.append(dict(type="rect", xref="paper", yref="paper", x0=px(652.5), x1=px(672), y0=py(bot), y1=py(top),
                       fillcolor=col, line=dict(width=0)))
note(676, 928.6, "A", 13, SANS, "#333333", xa="left")
note(676, 946.6, "B", 13, SANS, "#333333", xa="left")
note(1, 835, "b", 62, SANS, xa="left", bold=True)

# ---------- c ----------
go_terms = bp_terms + cc_terms + mf_terms
n_bp, n_cc, n_mf = len(bp_terms), len(cc_terms), len(mf_terms)
centers = [i + 0.5 for i in range(len(go_terms))]
for vals, start, color in [(bp_values, 0, "#4daf4a"), (cc_values, n_bp, "#377eb8"), (mf_values, n_bp + n_cc, "#e41a1c")]:
    fig.add_trace(go.Bar(x=centers[start:start + len(vals)], y=vals, width=0.72, showlegend=False, xaxis="x9", yaxis="y9",
                         marker=dict(color=color, line=dict(width=0))))
fig.add_trace(go.Scatter(x=[0.5, 0.5, 0.5, 0.5], y=gene_ticks, mode="markers", marker=dict(opacity=0, size=1), showlegend=False,
                         hoverinfo="skip", xaxis="x9", yaxis="y10"))
layout["xaxis9"] = dict(domain=dx(200.4, 1577.4), range=[0, 54], anchor="free", position=py(2086.5), showgrid=False, zeroline=False,
                        tickvals=centers, ticktext=go_terms, tickangle=-73, ticks="", ticklen=0,
                        tickfont=dict(family=SERIF, size=18, color="black", weight=700),
                        minor=dict(tickvals=list(range(54)), ticks="outside", ticklen=12, tickcolor="black", tickwidth=1.3),
                        ticklabelstandoff=6)
layout["yaxis9"] = dict(domain=dy(1496.7, 2086.5), type="log", range=[-1, 2], anchor="free", position=px(149.8), showgrid=False,
                        zeroline=False, showline=True, linecolor="black", linewidth=1.4, ticks="outside", ticklen=13, tickwidth=1.4,
                        tickvals=percent_ticks, ticktext=["0.1", "1", "10", "100"], tickangle=-90,
                        tickfont=dict(family=SANS, size=22, color="black"), ticklabelstandoff=4)
layout["yaxis10"] = dict(domain=dy(1496.7, 2086.5), type="log", range=[np.log10(2), np.log10(1631)], anchor="free",
                         position=px(1628), overlaying="y9", side="right", showgrid=False, zeroline=False, showline=True,
                         linecolor="black", linewidth=1.4, ticks="outside", ticklen=13, tickwidth=1.4, tickvals=gene_ticks,
                         ticktext=[str(t) for t in gene_ticks], tickangle=-90,
                         tickfont=dict(family=SERIF, size=23, color="black"), ticklabelstandoff=8)
seg(200.4, 2086.5, 1552, 2086.5, 1.5)
note(82, 1750, "Percentage of genes", 23, SANS, angle=-90)
note(1703, 1764, "Number of genes", 23.5, SERIF, angle=-90, bold=True)
note(1, 1497, "c", 62, SANS, xa="left", bold=True)
for pts in [[(161.6, 2274), (116.7, 2452), (654, 2452), (687.7, 2311.5)],
            [(758.6, 2187), (690, 2462), (1072, 2462), (1125.5, 2247)],
            [(1143.4, 2283), (1098.5, 2466), (1481, 2466), (1524.5, 2284)]]:
    for p, q in zip(pts, pts[1:]):
        seg(p[0], p[1], q[0], q[1])
note(405, 2468, "biological process", 19, SERIF, bold=True)
note(917, 2470, "cellular component", 19, SERIF, bold=True)
note(1316, 2474, "molecular function", 18.5, SERIF, bold=True)

fig.update_layout(template="none", width=W, height=H, autosize=False, margin=dict(l=0, r=0, t=0, b=0, pad=0),
                  paper_bgcolor="white", plot_bgcolor="white", barmode="overlay", annotations=annotations, shapes=shapes,
                  **layout)
fig.write_html("out.html", post_script="document.body.style.margin='0';", config={"displayModeBar": False})
